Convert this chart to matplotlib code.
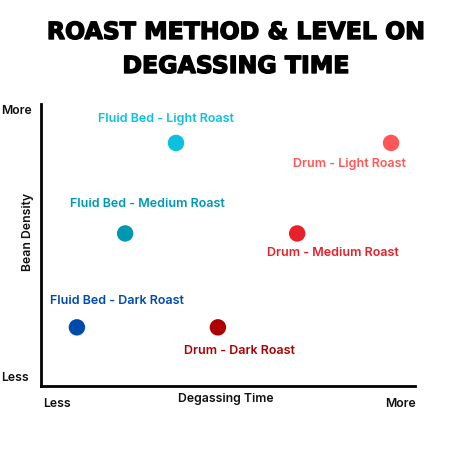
import matplotlib
matplotlib.use("Agg")
import matplotlib.pyplot as plt
import matplotlib.patheffects as pe

labels = ["Fluid Bed - Light Roast", "Drum - Light Roast",
          "Fluid Bed - Medium Roast", "Drum - Medium Roast",
          "Fluid Bed - Dark Roast", "Drum - Dark Roast"]
degassing = [3.61, 9.36, 2.25, 6.85, 0.96, 4.73]
density = [8.62, 8.62, 5.41, 5.41, 2.08, 2.08]
colors = ["#0CC0DF", "#FF5757", "#0097B2", "#E8202A", "#004AAD", "#AD0000"]
# label offsets in pixels (dx, dy) relative to the point
offsets = [(-10, 24), (-42, -21), (22, 29), (36, -20), (40, 26), (22, -24)]

fig = plt.figure(figsize=(4.74, 4.74), dpi=100)
W = H = 474.0
ax = fig.add_axes([41 / W, 1 - 386 / H, (415 - 41) / W, (386 - 104) / H])
ax.set_xlim(0, 10)
ax.set_ylim(0, 10)

lab_font = dict(family=["Inter", "DejaVu Sans"], fontweight="semibold", fontsize=9)
for x, y, c, lab, (dx, dy) in zip(degassing, density, colors, labels, offsets):
    ax.scatter([x], [y], s=140, color=c, edgecolors="none", zorder=3)
    ax.annotate(lab, (x, y), xytext=(dx * 0.72, dy * 0.72), textcoords="offset points",
                ha="center", va="center", color=c, **lab_font)

for s in ["top", "right"]:
    ax.spines[s].set_visible(False)
for s in ["left", "bottom"]:
    ax.spines[s].set_linewidth(2)
    ax.spines[s].set_color("black")
ax.set_xticks([])
ax.set_yticks([])

ax_font = dict(family=["Inter", "DejaVu Sans"], fontweight="semibold", fontsize=8.8, color="#111111")
fig.text(57 / W, 1 - 404 / H, "Less", ha="center", va="center", **ax_font)
fig.text(226 / W, 1 - 399 / H, "Degassing Time", ha="center", va="center", **ax_font)
fig.text(400 / W, 1 - 404 / H, "More", ha="center", va="center", **ax_font)
fig.text(1 / W, 1 - 378 / H, "Less", ha="left", va="center", **ax_font)
fig.text(1 / W, 1 - 111 / H, "More", ha="left", va="center", **ax_font)
fig.text(28 / W, 1 - 232 / H, "Bean Density", ha="center", va="center", rotation=90, **ax_font)

title_font = dict(family=["DejaVu Sans"], fontweight="bold", fontsize=17, color="black")
stroke = [pe.withStroke(linewidth=1.0, foreground="black")]
fig.text(236 / W, 1 - 32 / H, "ROAST METHOD & LEVEL ON", ha="center", va="center",
         path_effects=stroke, **title_font)
fig.text(236 / W, 1 - 66 / H, "DEGASSING TIME", ha="center", va="center",
         path_effects=stroke, **title_font)

fig.savefig("out.png", dpi=100, facecolor="white")
